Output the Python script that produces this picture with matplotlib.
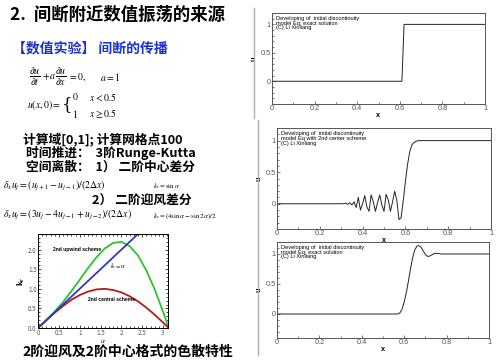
import matplotlib
matplotlib.use('Agg')
import matplotlib.pyplot as plt
from matplotlib.ticker import MultipleLocator
from matplotlib.lines import Line2D

plt.rcParams['font.family'] = ['Noto Sans CJK SC', 'DejaVu Sans']
plt.rcParams['mathtext.fontset'] = 'stix'

W, H = 500, 362

# 色散特性 (左下图)
alpha = [0, 0.2, 0.4, 0.6, 0.8, 1.0, 1.2, 1.4, 1.6, 1.8, 2.0, 2.2, 2.4, 2.6, 2.8, 3.0, 3.14]
kr_central = [0, 0.20, 0.39, 0.56, 0.72, 0.84, 0.93, 0.985, 1.0, 0.97, 0.91, 0.81, 0.68, 0.52, 0.34, 0.14, 0.0]
kr_upwind = [0, 0.20, 0.42, 0.66, 0.94, 1.23, 1.53, 1.80, 2.03, 2.17, 2.20, 2.09, 1.85, 1.47, 0.99, 0.42, 0.0]
alpha_exact = [0, 3.14]
kr_exact = [0, 3.14]

# 精确解
x_exact = [0.0, 0.61, 0.62, 1.0]
u_exact = [0.0, 0.0, 1.0, 1.0]

# 二阶中心差分
x_center = [0.0, 0.30, 0.31, 0.32, 0.33, 0.34, 0.35, 0.36, 0.37, 0.38, 0.39, 0.40,
            0.41, 0.42, 0.43, 0.44, 0.45, 0.46, 0.47, 0.48, 0.49, 0.50, 0.51, 0.52,
            0.53, 0.54, 0.55, 0.56, 0.57, 0.58, 0.59, 0.60, 0.61, 0.62, 0.63, 0.64,
            0.65, 0.66, 1.0]
u_center = [0.0, 0.0, 0.0, 0.01, -0.01, 0.015, -0.02, 0.03, -0.06, 0.10, -0.10, 0.0,
            0.13, -0.05, -0.12, 0.14, 0.03, -0.12, 0.02, 0.14, -0.02, -0.12, 0.15, 0.06,
            -0.12, 0.03, 0.20, 0.05, -0.25, -0.22, 0.05, 0.35, 0.62, 0.82, 0.93, 0.97,
            0.99, 1.0, 1.0]

# 二阶迎风差分
x_upwind = [0.0, 0.56, 0.57, 0.58, 0.59, 0.60, 0.61, 0.62, 0.63, 0.64, 0.65, 0.66,
            0.67, 0.68, 0.69, 0.70, 0.71, 0.72, 0.73, 0.74, 0.75, 0.76, 0.77, 0.78, 1.0]
u_upwind = [0.0, 0.0, 0.0, 0.02, 0.08, 0.20, 0.36, 0.55, 0.76, 0.94, 1.07, 1.13,
            1.14, 1.11, 1.05, 0.99, 0.96, 0.965, 0.985, 1.005, 1.012, 1.01, 1.002, 1.0, 1.0]

fig = plt.figure(figsize=(W / 100, H / 100), dpi=100)
fig.patch.set_facecolor('white')


def px(x, y):
    return x / W, 1 - y / H


def ax_box(x0, y0, x1, y1):
    return [x0 / W, 1 - y1 / H, (x1 - x0) / W, (y1 - y0) / H]


# ---- 左侧文字 ----
fig.text(*px(10, 15), '2.  间断附近数值振荡的来源', fontsize=12.5, fontweight='bold', va='center')
fig.text(*px(12, 48), '【数值实验】 间断的传播', fontsize=10, fontweight='bold',
         color='#1a33cc', va='center')
# 方程：分式单独放大
fig.text(*px(29, 77), r'$\frac{\partial u}{\partial t}$', fontsize=10, va='center')
fig.text(*px(42, 77), r'$+\,a$', fontsize=7, va='center')
fig.text(*px(55, 77), r'$\frac{\partial u}{\partial x}$', fontsize=10, va='center')
fig.text(*px(68, 77), r'$=0,$', fontsize=7, va='center')
fig.text(*px(100, 77), r'$a=1$', fontsize=7, va='center')
fig.text(*px(27, 105), r'$u(x,0)=$', fontsize=7, va='center')
fig.text(*px(62, 105), '{', fontsize=12, va='center', family='DejaVu Serif',
         fontweight='light')
fig.text(*px(72, 97), r'$0$', fontsize=7, va='center')
fig.text(*px(89, 97), r'$x<0.5$', fontsize=7, va='center')
fig.text(*px(72, 114), r'$1$', fontsize=7, va='center')
fig.text(*px(89, 114), r'$x\geq 0.5$', fontsize=7, va='center')

fig.text(*px(23, 139), '计算域[0,1]; 计算网格点100', fontsize=9.2, fontweight='bold', va='center')
fig.text(*px(26, 153), '时间推进：  3阶Runge-Kutta', fontsize=9.2, fontweight='bold', va='center')
fig.text(*px(26, 167), '空间离散：  1） 二阶中心差分', fontsize=9.2, fontweight='bold', va='center')
fig.text(*px(3, 186), r'$\delta_x u_j=(u_{j+1}-u_{j-1})/(2\Delta x)$', fontsize=7, va='center')
fig.text(*px(153, 186), r'$k_r=\sin\alpha$', fontsize=5, va='center')
fig.text(*px(92, 201), '2） 二阶迎风差分', fontsize=9.2, fontweight='bold', va='center')
fig.text(*px(3, 215), r'$\delta_x u_j=(3u_j-4u_{j-1}+u_{j-2})/(2\Delta x)$', fontsize=7, va='center')
fig.text(*px(153, 216), r'$k_r=(4\sin\alpha-\sin 2\alpha)/2$', fontsize=5, va='center')
fig.text(*px(22, 352), '2阶迎风及2阶中心格式的色散特性', fontsize=10, fontweight='bold', va='center')

# ---- 左下：色散特性 ----
ax0 = fig.add_axes(ax_box(38, 234, 168, 328))
ax0.plot(alpha, kr_upwind, color='#2ec22e', lw=1.3)
ax0.plot(alpha, kr_central, color='#b01c1c', lw=1.3)
ax0.plot(alpha_exact, kr_exact, color='#3535c8', lw=1.3)
ax0.set_xlim(0, 3.12)
ax0.set_ylim(0, 2.4)
ax0.xaxis.set_major_locator(MultipleLocator(0.5))
ax0.yaxis.set_major_locator(MultipleLocator(0.5))
ax0.xaxis.set_minor_locator(MultipleLocator(0.1))
ax0.yaxis.set_minor_locator(MultipleLocator(0.1))
ax0.tick_params(which='both', direction='in', top=True, right=True, labelsize=4.5,
                labelcolor='#555555', pad=1, width=0.5)
ax0.tick_params(which='major', length=2.5)
ax0.tick_params(which='minor', length=1.2)
ax0.set_xticks([0, 0.5, 1, 1.5, 2, 2.5, 3])
ax0.set_xticklabels(['0', '0.5', '1', '1.5', '2', '2.5', '3'])
for s in ax0.spines.values():
    s.set_linewidth(0.7)
ax0.text(0.35, 2.0, '2nd upwind scheme', fontsize=3.6, fontweight='bold',
         family='Liberation Sans', va='center')
ax0.text(1.72, 1.57, r'$k_r=\alpha$', fontsize=4.5, va='center')
ax0.text(1.2, 0.74, '2nd central scheme', fontsize=3.6, fontweight='bold',
         family='Liberation Sans', va='center')
ax0.set_ylabel(r'$\mathbf{k_r}$', fontsize=6, labelpad=1)
ax0.set_xlabel(r'$\alpha$', fontsize=5, labelpad=0)

# ---- 右侧三幅图 ----
panels = [
    (ax_box(272, 13, 485, 104), x_exact, u_exact, 'model Eq: exact solution', 254, 8, 118),
    (ax_box(277, 128, 491, 229), x_center, u_center, 'model Eq with 2nd center scheme', 258, 120, 238),
    (ax_box(277, 242, 489, 338), x_upwind, u_upwind, 'model Eq: exact solution', 258, 239, 355),
]
for box, xs, us, line2, sep_x, sep_y0, sep_y1 in panels:
    ax = fig.add_axes(box)
    ax.plot(xs, us, color='#222222', lw=0.7)
    ax.set_xlim(0, 1)
    ax.set_ylim(-0.4, 1.2)
    ax.xaxis.set_major_locator(MultipleLocator(0.2))
    ax.xaxis.set_minor_locator(MultipleLocator(0.1))
    ax.yaxis.set_major_locator(MultipleLocator(0.5))
    ax.yaxis.set_minor_locator(MultipleLocator(0.1))
    ax.tick_params(which='both', direction='in', labelsize=5.3, labelcolor='#555555',
                   pad=1, width=0.5, color='#444444')
    ax.tick_params(which='major', length=2.5)
    ax.tick_params(which='minor', length=1.2)
    ax.set_xticks([0, 0.2, 0.4, 0.6, 0.8, 1.0])
    ax.set_xticklabels(['0', '0.2', '0.4', '0.6', '0.8', '1'])
    ax.set_yticks([0, 0.5, 1.0])
    ax.set_yticklabels(['0', '0.5', '1'])
    for lab in ax.get_xticklabels() + ax.get_yticklabels():
        lab.set_family('Liberation Sans')
    for s in ax.spines.values():
        s.set_linewidth(0.7)
        s.set_color('#555555')
    ax.set_xlabel('x', fontsize=5.3, fontweight='bold', labelpad=0, family='Liberation Sans')
    ax.set_ylabel('u', fontsize=5.3, fontweight='bold', labelpad=2, family='Liberation Sans')
    ax.text(0.02, 0.97, 'Developing of  initial discontinuity\n' + line2 + '\n(C) Li Xinliang',
            transform=ax.transAxes, fontsize=4.1, family='Liberation Sans',
            va='top', ha='left', linespacing=0.95)
    fig.add_artist(Line2D([sep_x / W, sep_x / W], [1 - sep_y0 / H, 1 - sep_y1 / H],
                          color='#b0b0b0', lw=1.0))

fig.savefig('out.png', dpi=100)
